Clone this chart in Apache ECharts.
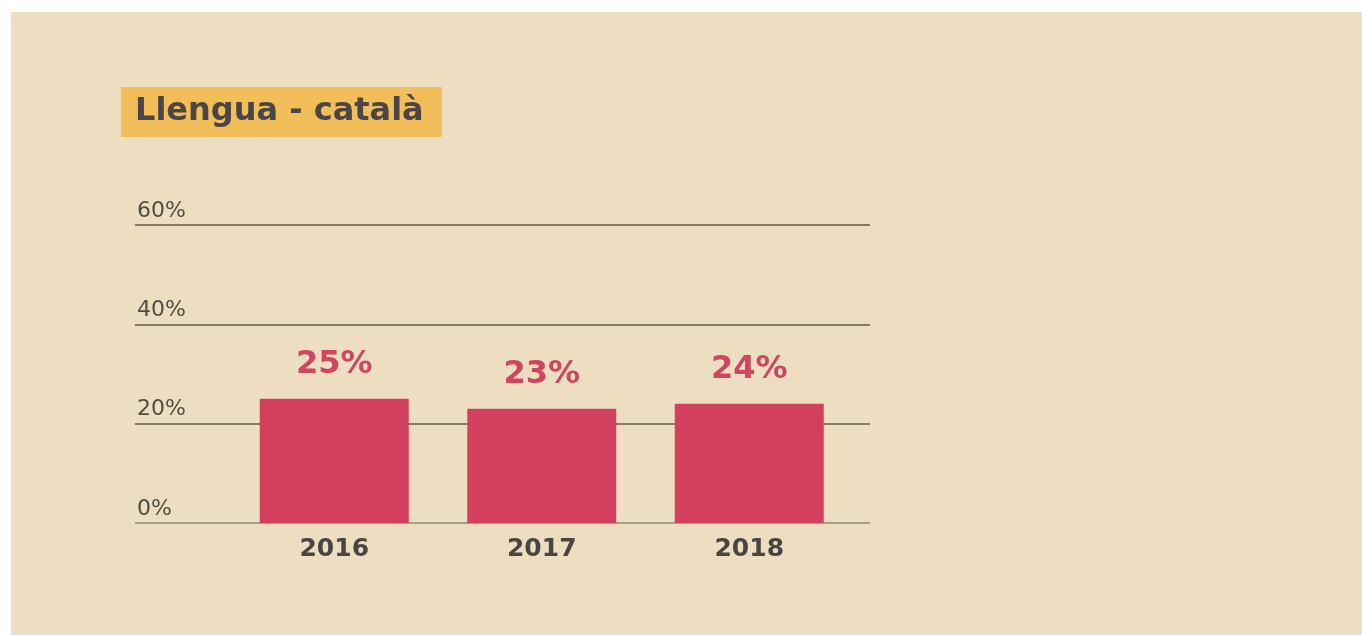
<!DOCTYPE html>
<html>
<head>
    <meta charset="UTF-8">
    <title>Llengua - català</title>
    <script src="https://cdn.jsdelivr.net/npm/echarts@6/dist/echarts.min.js"></script>
    <style type="text/css">
      body{
        background: #fff;
        margin: 0;
        padding: 0;
      }
      #chart{
        position: absolute;
        left: 11px;
        top: 12px;
        width: 1351px;
        height: 623px;
        background: #EEDEC1;
      }
    </style>
</head>
<body>
<div id="chart"></div>
<script type="text/javascript">
    // dades
    var years = ['2016', '2017', '2018'];
    var shares = [25, 23, 24];
    var yMin = 0, yMax = 60, yStep = 20;

    var font = 'DejaVu Sans';
    var chart = echarts.init(document.getElementById('chart'));

    var option = {
        backgroundColor: '#EEDEC1',
        title: {
            text: 'Llengua - català',
            left: 110,
            top: 75,
            padding: [9, 18, 9, 14],
            backgroundColor: '#F1BE5A',
            textStyle: {fontFamily: font, fontSize: 32, fontWeight: 'bold', color: '#4B4645'}
        },
        grid: [
            {left: 124, right: 492, top: 213, bottom: 112},   // línies de fons
            {left: 219.5, right: 509, top: 213, bottom: 112}  // barres
        ],
        xAxis: [
            {type: 'value', gridIndex: 0, show: false},
            {
                type: 'category', gridIndex: 1, data: years,
                axisLine: {show: false}, axisTick: {show: false},
                axisLabel: {margin: 14, fontFamily: font, fontSize: 25, fontWeight: 'bold', color: '#4A4540'}
            }
        ],
        yAxis: [
            {
                type: 'value', gridIndex: 0, min: yMin, max: yMax, interval: yStep,
                axisLine: {show: false}, axisTick: {show: false},
                axisLabel: {
                    inside: true, align: 'left', verticalAlign: 'bottom', margin: 2,
                    padding: [0, 0, 3, 0],
                    formatter: '{value}%', fontFamily: font, fontSize: 22, color: '#524D42'
                },
                splitLine: {lineStyle: {color: ['#8E8A78', '#5E5A4B', '#5E5A4B', '#5E5A4B'], width: 1.5}}
            },
            {type: 'value', gridIndex: 1, min: yMin, max: yMax, show: false}
        ],
        series: [{
            type: 'bar',
            xAxisIndex: 1,
            yAxisIndex: 1,
            data: shares,
            barWidth: 149,
            itemStyle: {color: '#D3405E'},
            label: {
                show: true, position: 'top', distance: 18,
                formatter: '{c}%', fontFamily: font, fontSize: 32, fontWeight: 'bold', color: '#CF4661'
            },
            silent: true
        }],
        animation: false
    };

    chart.setOption(option);
</script>
</body>
</html>
